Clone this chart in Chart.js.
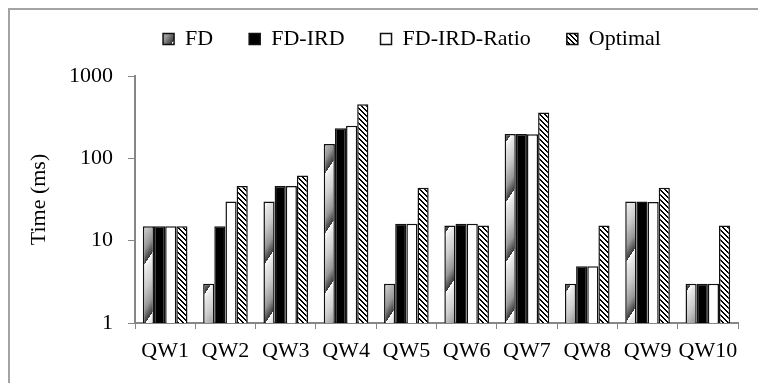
<!DOCTYPE html>
<html>
<head>
<meta charset="utf-8">
<script src="https://cdn.jsdelivr.net/npm/chart.js@4/dist/chart.umd.min.js"></script>
<style>
  html, body { margin: 0; padding: 0; background: #fff; overflow: hidden; }
  #wrap { position: relative; width: 758px; height: 383px; }
  #frame { position: absolute; left: 8px; top: 8px; width: 800px; height: 420px;
           border-top: 2px solid #a3a3a3; border-left: 2px solid #a3a3a3; pointer-events: none; }
</style>
</head>
<body>
<div id="wrap">
  <canvas id="c" width="758" height="383"></canvas>
  <div id="frame"></div>
</div>
<script>
const categories = ['QW1', 'QW2', 'QW3', 'QW4', 'QW5', 'QW6', 'QW7', 'QW8', 'QW9', 'QW10'];
const seriesNames = ['FD', 'FD-IRD', 'FD-IRD-Ratio', 'Optimal'];
const fd         = [15, 3, 30, 149, 3, 15.3, 198, 3, 30, 3];
const fdIrd      = [15, 15, 46, 232, 16, 16, 198, 4.9, 30, 3];
const fdIrdRatio = [15, 30, 46, 248, 16, 16, 196, 4.9, 29.5, 3];
const optimal    = [15, 46, 62, 455, 44, 15.3, 361, 15.3, 44, 15.3];
const yTicks = [1, 10, 100, 1000];

// Metallic diagonal gradient used for the FD series
function metallicPattern() {
  const W = 40, H = 60, slope = 1.5;
  const cv = document.createElement('canvas');
  cv.width = W; cv.height = H;
  const g = cv.getContext('2d');
  const img = g.createImageData(W, H);
  const stops = [[0, 252], [0.12, 230], [0.4, 205], [0.75, 150], [1, 55]];
  function shade(u) {
    for (let i = 1; i < stops.length; i++) {
      if (u <= stops[i][0]) {
        const a = stops[i - 1], b = stops[i];
        const t = (u - a[0]) / (b[0] - a[0]);
        return a[1] + (b[1] - a[1]) * t;
      }
    }
    return stops[stops.length - 1][1];
  }
  for (let y = 0; y < H; y++) {
    for (let x = 0; x < W; x++) {
      const u = ((y + slope * x) % H) / H;
      const v = Math.round(shade(u));
      const k = (y * W + x) * 4;
      img.data[k] = v; img.data[k + 1] = v; img.data[k + 2] = v; img.data[k + 3] = 255;
    }
  }
  g.putImageData(img, 0, 0);
  return g.createPattern(cv, 'repeat');
}

// Fine "\" hatch used for the Optimal series
function hatchPattern() {
  const S = 5;
  const cv = document.createElement('canvas');
  cv.width = S; cv.height = S;
  const g = cv.getContext('2d');
  g.fillStyle = '#fff';
  g.fillRect(0, 0, S, S);
  g.fillStyle = '#000';
  for (let r = 0; r < S; r++) {
    g.fillRect(r % S, r, 1, 1);
    g.fillRect((r + 1) % S, r, 1, 1);
  }
  return g.createPattern(cv, 'repeat');
}

const fontFamily = '"Liberation Serif", "Times New Roman", serif';
const fontSize = 22;
const axisGray = '#868686';
const fills = [metallicPattern(), '#000000', '#ffffff', hatchPattern()];
const values = [fd, fdIrd, fdIrdRatio, optimal];

const datasets = seriesNames.map((name, i) => ({
  label: name,
  data: values[i],
  backgroundColor: fills[i],
  borderColor: '#111',
  borderWidth: 1.5,
  borderSkipped: 'bottom',
  barPercentage: 1.0,
  categoryPercentage: 0.74
}));

// Nudges the legend row to sit centred above the bars, near the top edge
const legendPlacement = {
  id: 'legendPlacement',
  afterLayout(chart) {
    const lg = chart.legend;
    if (!lg) return;
    const dx = 43, dy = -16;
    lg.left += dx; lg.right += dx;
    lg.top += dy; lg.bottom += dy;
  }
};

new Chart(document.getElementById('c'), {
  type: 'bar',
  data: { labels: categories, datasets },
  plugins: [legendPlacement],
  options: {
    responsive: false,
    animation: false,
    devicePixelRatio: 1,
    layout: { padding: { left: 0, right: 20, top: 8, bottom: 0 } },
    plugins: {
      legend: {
        position: 'top',
        labels: {
          boxWidth: 11,
          boxHeight: 11,
          padding: 36,
          color: '#000',
          font: { family: fontFamily, size: fontSize }
        }
      },
      tooltip: { enabled: false }
    },
    scales: {
      x: {
        grid: { display: true, drawOnChartArea: false, drawTicks: true, tickLength: 6, color: axisGray, offset: true },
        border: { display: true, color: axisGray, width: 2 },
        ticks: {
          color: '#000', padding: 9, maxRotation: 0, minRotation: 0, autoSkip: false,
          font: { family: fontFamily, size: fontSize }
        },
        afterFit: (s) => { s.height = 60; }
      },
      y: {
        type: 'logarithmic',
        min: 1,
        max: 1000,
        afterBuildTicks: (s) => { s.ticks = yTicks.map(v => ({ value: v })); },
        grid: { display: true, drawOnChartArea: false, drawTicks: true, tickLength: 7, color: axisGray },
        border: { display: true, color: axisGray, width: 2 },
        ticks: {
          color: '#000',
          padding: 15,
          font: { family: fontFamily, size: fontSize },
          callback: (v) => String(v)
        },
        title: {
          display: true,
          text: 'Time (ms)',
          color: '#000',
          font: { family: fontFamily, size: fontSize },
          padding: { top: 26, bottom: 0 }
        },
        afterFit: (s) => { s.width = 135; }
      }
    }
  }
});
</script>
</body>
</html>
